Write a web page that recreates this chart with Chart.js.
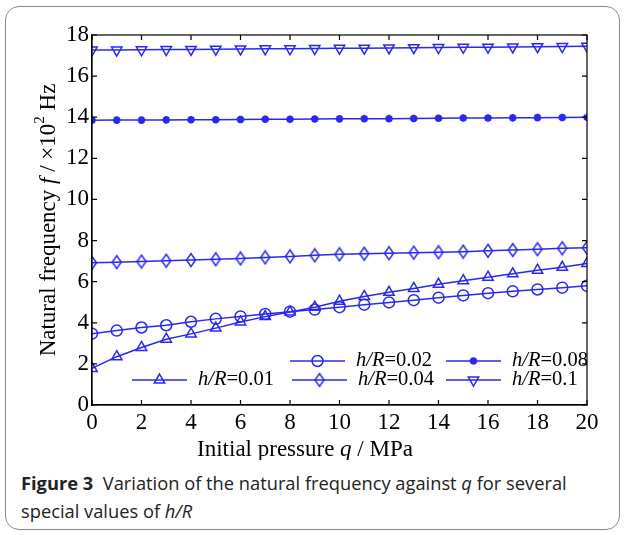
<!DOCTYPE html>
<html>
<head>
<meta charset="utf-8">
<script src="https://cdn.jsdelivr.net/npm/chart.js@4.4.0/dist/chart.umd.min.js"></script>
<style>
  body { margin: 0; background: #fff; }
  #card { position: absolute; left: 5px; top: 6px; width: 613px; height: 522px;
          border: 1px solid #8a8a8a; border-radius: 14px; }
  #wrap { position: absolute; left: 0; top: 0; width: 624px; height: 460px; }
  #cap { position: absolute; left: 21px; top: 469px; width: 595px; white-space: nowrap;
         font-family: "Open Sans", sans-serif; font-size: 18.3px; line-height: 28px; color: #222; }
</style>
</head>
<body>
<div id="card"></div>
<div id="wrap"><canvas id="myChart" width="624" height="460"></canvas></div>
<div id="cap"><b>Figure 3</b>&nbsp; Variation of the natural frequency against <i>q</i> for several<br>special values of <i>h/R</i></div>
<script>
const q = [0, 1, 2, 3, 4, 5, 6, 7, 8, 9, 10, 11, 12, 13, 14, 15, 16, 17, 18, 19, 20];
const hR001 = [1.78, 2.35, 2.8, 3.2, 3.46, 3.74, 4.04, 4.3, 4.52, 4.76, 5.05, 5.28, 5.48, 5.67, 5.87, 6.05, 6.22, 6.38, 6.56, 6.7, 6.88];
const hR002 = [3.47, 3.62, 3.77, 3.88, 4.05, 4.19, 4.31, 4.43, 4.54, 4.64, 4.76, 4.88, 4.99, 5.1, 5.22, 5.33, 5.44, 5.53, 5.62, 5.71, 5.8];
const hR004 = [6.92, 6.95, 6.98, 7.02, 7.05, 7.09, 7.13, 7.18, 7.23, 7.28, 7.33, 7.36, 7.38, 7.41, 7.43, 7.46, 7.5, 7.54, 7.58, 7.62, 7.65];
const hR008 = [13.85, 13.86, 13.86, 13.87, 13.88, 13.88, 13.89, 13.9, 13.9, 13.91, 13.92, 13.93, 13.93, 13.94, 13.95, 13.96, 13.96, 13.97, 13.98, 13.99, 14.0];
const hR01 = [17.27, 17.27, 17.28, 17.29, 17.3, 17.31, 17.32, 17.33, 17.33, 17.34, 17.35, 17.36, 17.37, 17.38, 17.39, 17.4, 17.41, 17.42, 17.43, 17.44, 17.45];
const xTicks = [0, 2, 4, 6, 8, 10, 12, 14, 16, 18, 20];
const yTicks = [0, 2, 4, 6, 8, 10, 12, 14, 16, 18];

const blue = 'rgb(40,40,245)';
const serif = '"Liberation Serif", "Times New Roman", serif';

// tall diamond marker (matlab style)
const diamond = document.createElement('canvas');
diamond.width = 12; diamond.height = 16;
(function () {
    const c = diamond.getContext('2d');
    c.strokeStyle = blue; c.lineWidth = 1.5;
    c.beginPath();
    c.moveTo(6, 1.5); c.lineTo(10.5, 8); c.lineTo(6, 14.5); c.lineTo(1.5, 8); c.closePath();
    c.stroke();
})();

function pts(arr) { return q.map((x, i) => ({ x: x, y: arr[i] })); }

function ds(label, arr, style, radius, rot) {
    return {
        label: label, data: pts(arr),
        borderColor: blue, borderWidth: 1.5, backgroundColor: 'rgba(0,0,0,0)',
        pointStyle: style, pointRadius: radius, pointBorderWidth: style === 'star' ? 2.4 : 1.5,
        pointBorderColor: blue, pointBackgroundColor: 'rgba(0,0,0,0)',
        pointRotation: rot || 0, fill: false, tension: 0
    };
}

const datasets = [
    ds('0.01', hR001, 'triangle', 6),
    ds('0.02', hR002, 'circle', 5.5),
    ds('0.04', hR004, diamond, 6),
    ds('0.08', hR008, 'star', 3.8),
    ds('0.1', hR01, 'triangle', 6, 180)
];

// box, inward ticks, titles and in-plot legend
const decor = {
    id: 'decor',
    afterDraw(chart) {
        const ctx = chart.ctx, a = chart.chartArea;
        const xs = chart.scales.x, ys = chart.scales.y;
        ctx.save();
        ctx.strokeStyle = '#000'; ctx.lineWidth = 1.2;
        ctx.strokeRect(a.left, a.top, a.right - a.left, a.bottom - a.top);
        ctx.beginPath();
        xTicks.forEach(v => {
            const px = xs.getPixelForValue(v);
            ctx.moveTo(px, a.bottom); ctx.lineTo(px, a.bottom - 5);
            ctx.moveTo(px, a.top); ctx.lineTo(px, a.top + 5);
        });
        yTicks.forEach(v => {
            const py = ys.getPixelForValue(v);
            ctx.moveTo(a.left, py); ctx.lineTo(a.left + 5, py);
            ctx.moveTo(a.right, py); ctx.lineTo(a.right - 5, py);
        });
        ctx.stroke();

        ctx.fillStyle = '#000';
        ctx.textBaseline = 'middle';
        // x title
        drawRuns(ctx, [['Initial pressure ', ''], ['q', 'italic '], [' / MPa', '']], 305, 450, 23);
        // y title
        ctx.save();
        ctx.translate(49, 220);
        ctx.rotate(-Math.PI / 2);
        drawRuns(ctx, [['Natural frequency ', ''], ['f', 'italic '], [' / \u00d710', ''], ['2', 'sup'], [' Hz', '']], 0, 0, 23);
        ctx.restore();

        // legend
        const helpers = Chart.helpers;
        const items = [
            [1, 290, 361], [3, 446, 361],
            [0, 132, 380], [2, 292, 380], [4, 446, 380]
        ];
        items.forEach(it => {
            const d = chart.data.datasets[it[0]];
            const x0 = it[1], y0 = it[2];
            ctx.strokeStyle = blue; ctx.lineWidth = 1.5;
            ctx.beginPath(); ctx.moveTo(x0, y0); ctx.lineTo(x0 + 55, y0); ctx.stroke();
            ctx.fillStyle = 'rgba(0,0,0,0)';
            ctx.lineWidth = d.pointBorderWidth;
            helpers.drawPoint(ctx, {
                pointStyle: d.pointStyle, radius: d.pointRadius, rotation: d.pointRotation,
                borderWidth: d.pointBorderWidth
            }, x0 + 27.5, y0);
            ctx.fillStyle = '#000';
            drawRuns(ctx, [['h/R', 'italic '], ['=' + d.label, '']], x0 + 66, y0, 20.5, 'left');
        });
        ctx.restore();
    }
};

function drawRuns(ctx, runs, cx, cy, size, align) {
    const fontOf = r => r[1] === 'sup' ? (size * 0.65) + 'px ' + serif : r[1] + size + 'px ' + serif;
    let total = 0;
    runs.forEach(r => { ctx.font = fontOf(r); total += ctx.measureText(r[0]).width; });
    let x = align === 'left' ? cx : cx - total / 2;
    ctx.textAlign = 'left';
    runs.forEach(r => {
        ctx.font = fontOf(r);
        ctx.fillText(r[0], x, r[1] === 'sup' ? cy - size * 0.4 : cy);
        x += ctx.measureText(r[0]).width;
    });
}

const ctx = document.getElementById('myChart').getContext('2d');
new Chart(ctx, {
    type: 'line',
    data: { datasets: datasets },
    options: {
        responsive: false,
        animation: false,
        layout: { padding: { left: 0, right: 37, top: 35, bottom: 0 } },
        plugins: { legend: { display: false }, tooltip: { enabled: false } },
        scales: {
            x: {
                type: 'linear', min: 0, max: 20,
                afterBuildTicks: s => { s.ticks = xTicks.map(v => ({ value: v })); },
                afterFit: s => { s.height = 55; },
                grid: { display: false, drawTicks: false },
                border: { display: true, color: '#000', width: 1.2 },
                ticks: { color: '#000', padding: 4, font: { family: serif, size: 23 } }
            },
            y: {
                min: 0, max: 18,
                afterBuildTicks: s => { s.ticks = yTicks.map(v => ({ value: v })); },
                afterFit: s => { s.width = 92; },
                grid: { display: false, drawTicks: false },
                border: { display: true, color: '#000', width: 1.2 },
                ticks: { color: '#000', padding: 3, font: { family: serif, size: 23 } }
            }
        }
    },
    plugins: [decor]
});
</script>
</body>
</html>
